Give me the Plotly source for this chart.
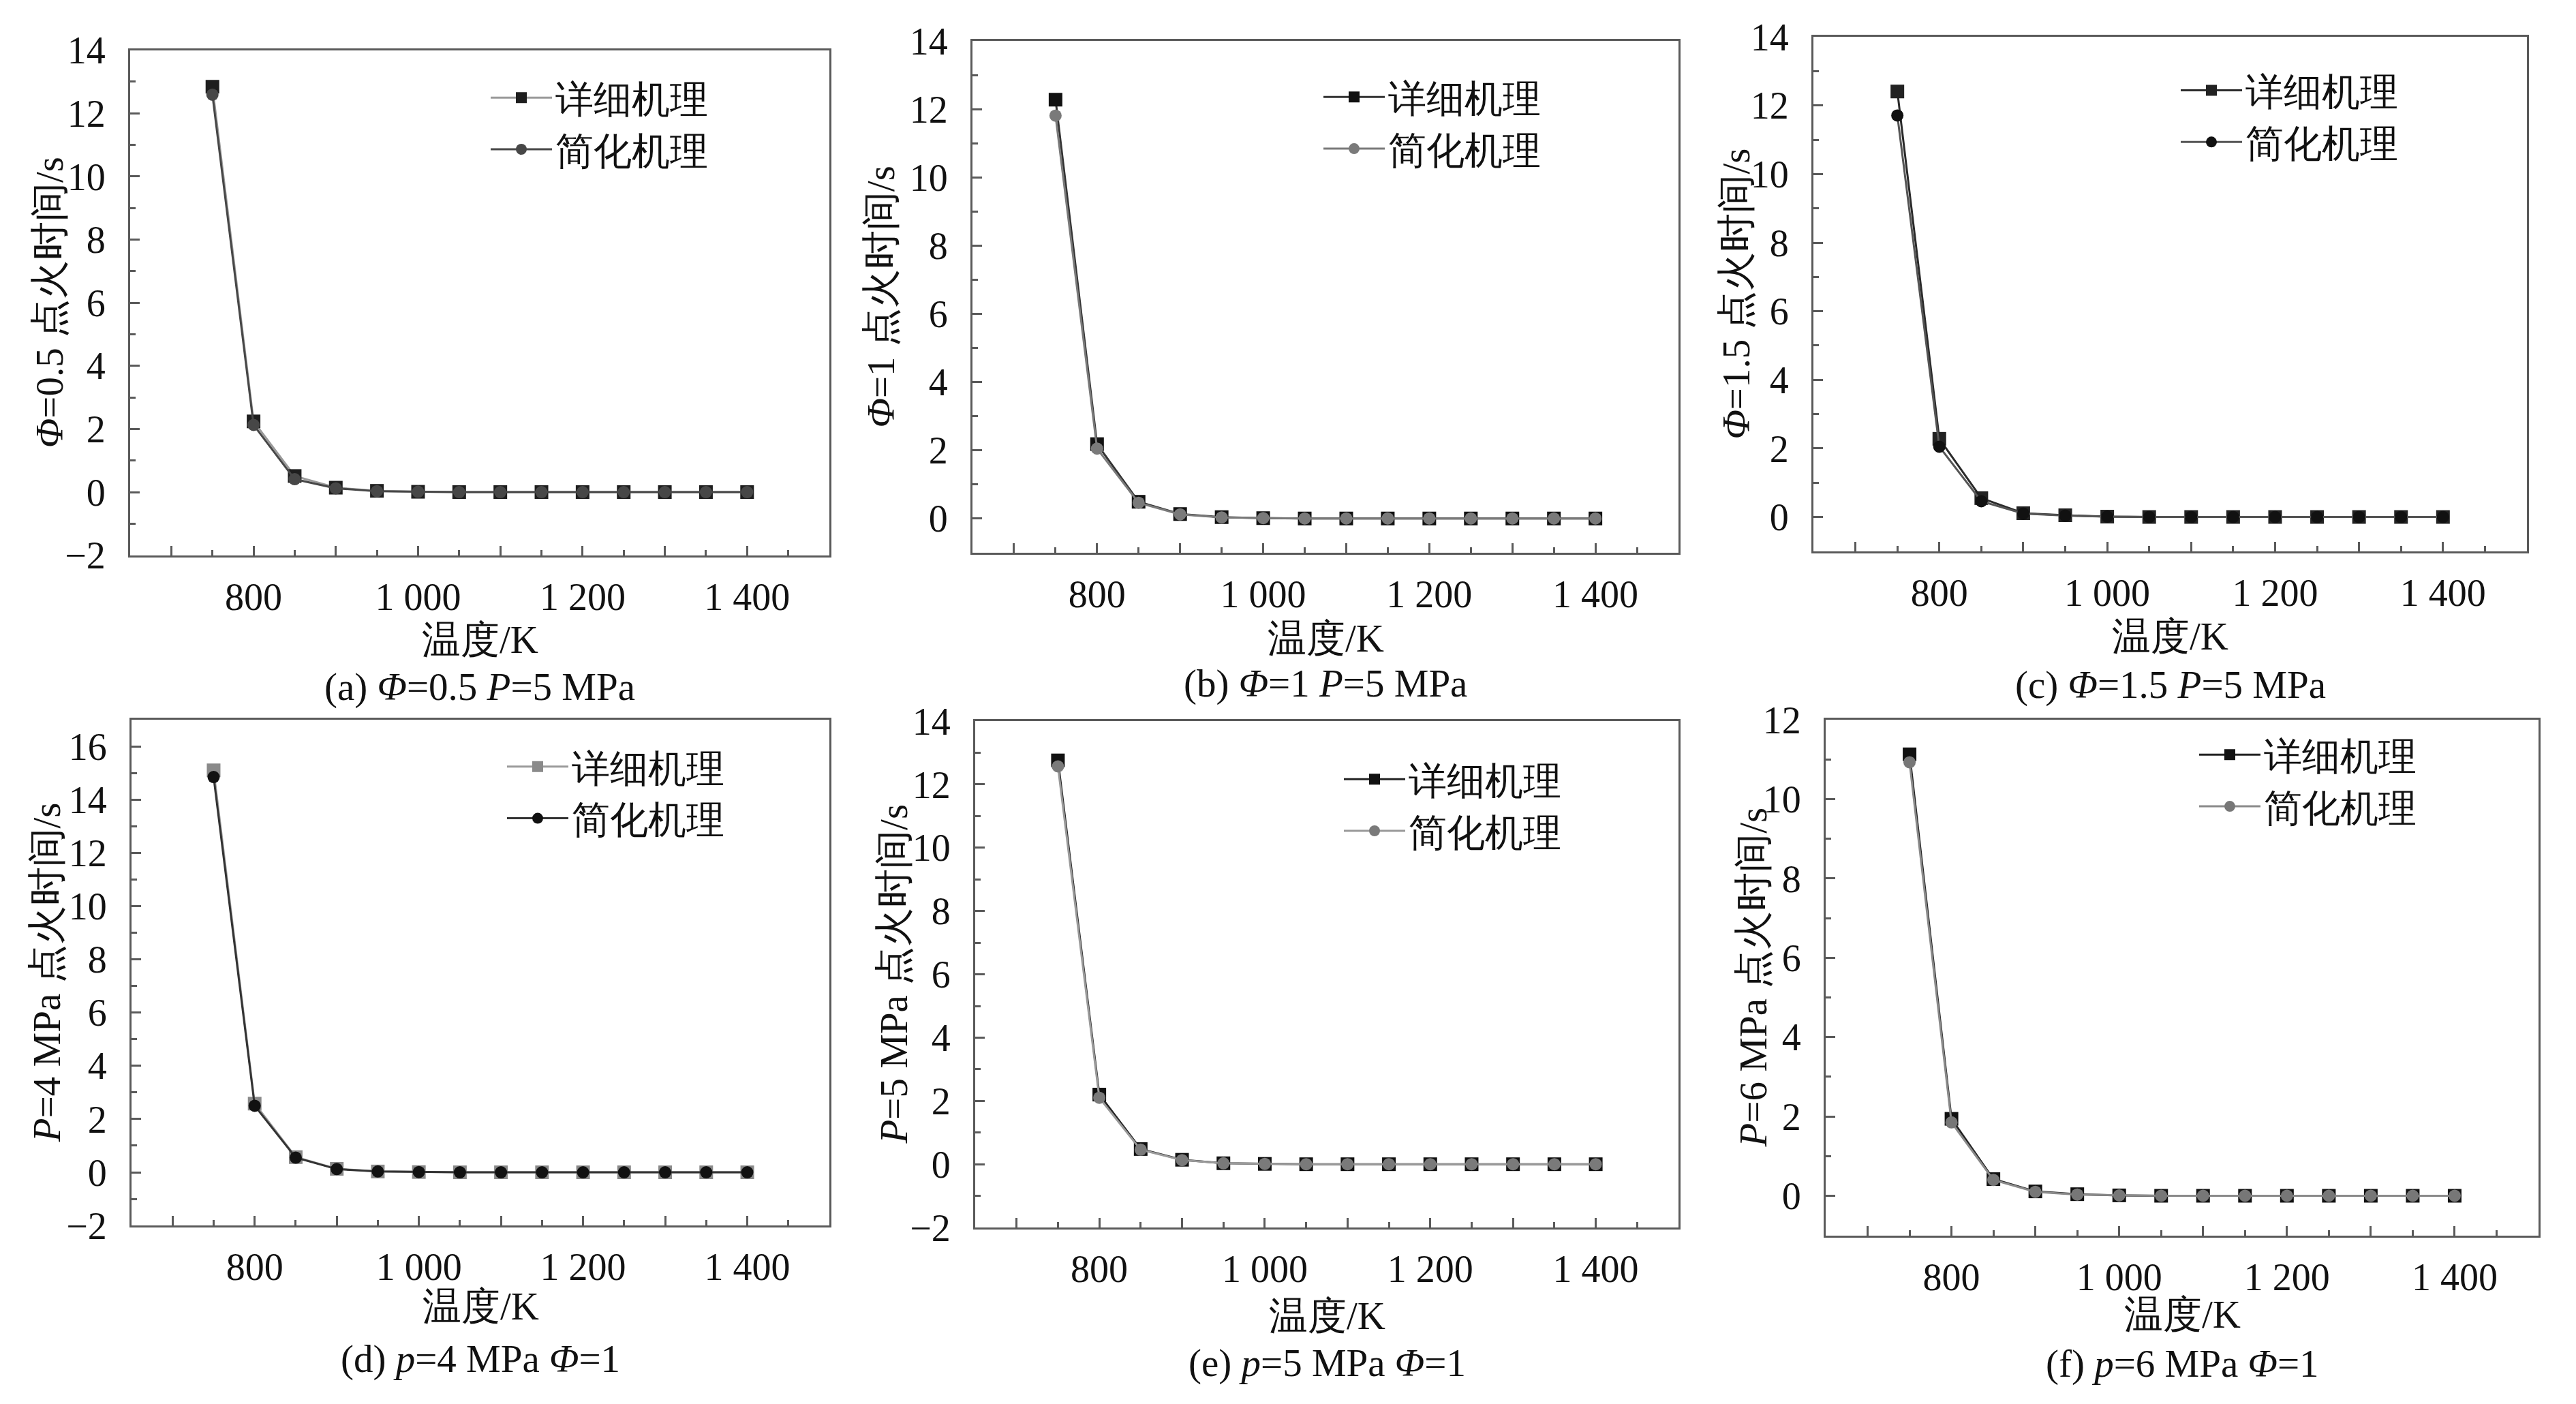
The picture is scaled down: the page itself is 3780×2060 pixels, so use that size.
import plotly.graph_objects as go

# temperatures (K) shared by all six panels
TEMPS = [750, 800, 850, 900, 950, 1000, 1050, 1100, 1150, 1200, 1250, 1300, 1350, 1400]

# ignition delay (s): detailed vs simplified mechanism
A_DETAIL = [12.84, 2.24, 0.51, 0.14, 0.04, 0.01, 0, 0, 0, 0, 0, 0, 0, 0]
A_SIMPLE = [12.59, 2.13, 0.41, 0.12, 0.03, 0.01, 0, 0, 0, 0, 0, 0, 0, 0]
B_DETAIL = [12.28, 2.18, 0.49, 0.13, 0.04, 0.01, 0, 0, 0, 0, 0, 0, 0, 0]
B_SIMPLE = [11.81, 2.05, 0.46, 0.12, 0.03, 0.01, 0, 0, 0, 0, 0, 0, 0, 0]
C_DETAIL = [12.41, 2.28, 0.55, 0.11, 0.05, 0.01, 0, 0, 0, 0, 0, 0, 0, 0]
C_SIMPLE = [11.71, 2.05, 0.46, 0.10, 0.04, 0.01, 0, 0, 0, 0, 0, 0, 0, 0]
D_DETAIL = [15.10, 2.58, 0.57, 0.13, 0.03, 0.01, 0, 0, 0, 0, 0, 0, 0, 0]
D_SIMPLE = [14.85, 2.50, 0.55, 0.12, 0.03, 0.01, 0, 0, 0, 0, 0, 0, 0, 0]
E_DETAIL = [12.76, 2.20, 0.48, 0.14, 0.03, 0.01, 0, 0, 0, 0, 0, 0, 0, 0]
E_SIMPLE = [12.57, 2.10, 0.46, 0.13, 0.03, 0.01, 0, 0, 0, 0, 0, 0, 0, 0]
F_DETAIL = [11.13, 1.94, 0.42, 0.11, 0.04, 0.01, 0, 0, 0, 0, 0, 0, 0, 0]
F_SIMPLE = [10.93, 1.85, 0.40, 0.10, 0.03, 0.01, 0, 0, 0, 0, 0, 0, 0, 0]

X_TICKS = [700, 800, 900, 1000, 1100, 1200, 1300, 1400, 1500]
X_TICK_TEXT = ["", "800", "", "1 000", "", "1 200", "", "1 400", ""]

SERIES_NAMES = ["详细机理", "简化机理"]
Y_TITLES = ["<i>Φ</i>=0.5 点火时间/s", "<i>Φ</i>=1 点火时间/s", "<i>Φ</i>=1.5 点火时间/s",
            "<i>P</i>=4 MPa 点火时间/s", "<i>P</i>=5 MPa 点火时间/s", "<i>P</i>=6 MPa 点火时间/s"]
X_TITLE = "温度/K"
CAPTIONS = ["(a) <i>Φ</i>=0.5 <i>P</i>=5 MPa", "(b) <i>Φ</i>=1 <i>P</i>=5 MPa",
            "(c) <i>Φ</i>=1.5 <i>P</i>=5 MPa", "(d) <i>p</i>=4 MPa <i>Φ</i>=1",
            "(e) <i>p</i>=5 MPa <i>Φ</i>=1", "(f) <i>p</i>=6 MPa <i>Φ</i>=1"]

DATA = [(A_DETAIL, A_SIMPLE), (B_DETAIL, B_SIMPLE), (C_DETAIL, C_SIMPLE),
        (D_DETAIL, D_SIMPLE), (E_DETAIL, E_SIMPLE), (F_DETAIL, F_SIMPLE)]

W, H = 3780, 2060
FONT = "Liberation Serif"
AX = "#5a5a5a"
TXT = "#111111"

# plot boxes in pixels: left, right, top, bottom
BOXES = [(191, 1217, 45, 809), (1427, 2463, 31, 805), (2661, 3708, 25, 803),
         (193, 1217, 1058, 1823), (1431, 2463, 1060, 1826), (2679, 3725, 1058, 1838)]
YRANGES = [(-2, 14), (-1, 14), (-1, 14), (-2, 17), (-2, 14), (-1, 12)]
# (detail line, detail marker, simple line, simple marker)
COLORS = [("#9a9a9a", "#1e1e1e", "#474747", "#474747"),
          ("#333333", "#111111", "#7a7a7a", "#7a7a7a"),
          ("#2a2a2a", "#222222", "#555555", "#111111"),
          ("#9a9a9a", "#8a8a8a", "#333333", "#111111"),
          ("#222222", "#111111", "#9a9a9a", "#7a7a7a"),
          ("#222222", "#111111", "#8a8a8a", "#777777")]
# legend: line start x, middle y between rows (px)
LEGENDS = [(715, 156), (1937, 155), (3195, 145), (739, 1168), (1967, 1187), (3222, 1150)]
YLAB_SHIFT = [119, 135, 113, 125, 119, 107]
XLAB_SHIFT = [124, 126, 125, 118, 129, 116]
CAP_SHIFT = [193, 192, 196, 196, 199, 188]

fig = go.Figure()
layout = {}
for i, ((det, sim), box) in enumerate(zip(DATA, BOXES)):
    n = "" if i == 0 else str(i + 1)
    lg = "legend" if i == 0 else f"legend{i + 1}"
    cl = COLORS[i]
    fig.add_scatter(x=TEMPS, y=det, name=SERIES_NAMES[0], xaxis=f"x{n}", yaxis=f"y{n}",
                    legend=lg, mode="lines+markers",
                    line=dict(color=cl[0], width=3),
                    marker=dict(symbol="square", size=20, color=cl[1]))
    fig.add_scatter(x=TEMPS, y=sim, name=SERIES_NAMES[1], xaxis=f"x{n}", yaxis=f"y{n}",
                    legend=lg, mode="lines+markers",
                    line=dict(color=cl[2], width=3),
                    marker=dict(symbol="circle", size=18, color=cl[3]))
    l, r, t, b = box
    layout[f"xaxis{n}"] = dict(
        domain=[l / W, r / W], anchor=f"y{n}", range=[650, 1500],
        tickmode="array", tickvals=X_TICKS, ticktext=X_TICK_TEXT,
        ticks="inside", ticklen=14, tickwidth=3, tickcolor=AX,
        showline=True, linecolor=AX, linewidth=3, mirror=True,
        showgrid=False, zeroline=False, ticklabelstandoff=10,
        tickfont=dict(family=FONT, size=56, color=TXT),
        minor=dict(dtick=50, ticks="inside", ticklen=8, tickwidth=3, tickcolor=AX))
    layout[f"yaxis{n}"] = dict(
        domain=[1 - b / H, 1 - t / H], anchor=f"x{n}", range=list(YRANGES[i]),
        tick0=0, dtick=2, ticks="inside", ticklen=14, tickwidth=3, tickcolor=AX,
        showline=True, linecolor=AX, linewidth=3, mirror=True,
        showgrid=False, zeroline=False, ticklabelstandoff=22,
        tickfont=dict(family=FONT, size=56, color=TXT),
        minor=dict(dtick=1, ticks="inside", ticklen=8, tickwidth=3, tickcolor=AX))
    lx, ly = LEGENDS[i]
    layout[lg] = dict(x=lx / W, y=1 - ly / H, xanchor="left", yanchor="middle",
                      bgcolor="rgba(0,0,0,0)", itemwidth=90, tracegroupgap=0,
                      font=dict(family=FONT, size=56, color=TXT))
    xd, yd = f"x{n} domain", f"y{n} domain"
    fig.add_annotation(text=Y_TITLES[i], xref=xd, yref=yd, x=0, y=0.5, textangle=-90,
                       xanchor="center", yanchor="middle", xshift=-YLAB_SHIFT[i],
                       showarrow=False, font=dict(family=FONT, size=57, color=TXT))
    fig.add_annotation(text=X_TITLE, xref=xd, yref=yd, x=0.5, y=0,
                       xanchor="center", yanchor="middle", yshift=-XLAB_SHIFT[i],
                       showarrow=False, font=dict(family=FONT, size=57, color=TXT))
    fig.add_annotation(text=CAPTIONS[i], xref=xd, yref=yd, x=0.5, y=0,
                       xanchor="center", yanchor="middle", yshift=-CAP_SHIFT[i],
                       showarrow=False, font=dict(family=FONT, size=57, color=TXT))

fig.update_layout(width=W, height=H, autosize=False, margin=dict(l=0, r=0, t=0, b=0),
                  paper_bgcolor="white", plot_bgcolor="white",
                  showlegend=True, **layout)

fig.write_html("out.html", config={"displayModeBar": False},
               post_script="document.body.style.margin='0';")
